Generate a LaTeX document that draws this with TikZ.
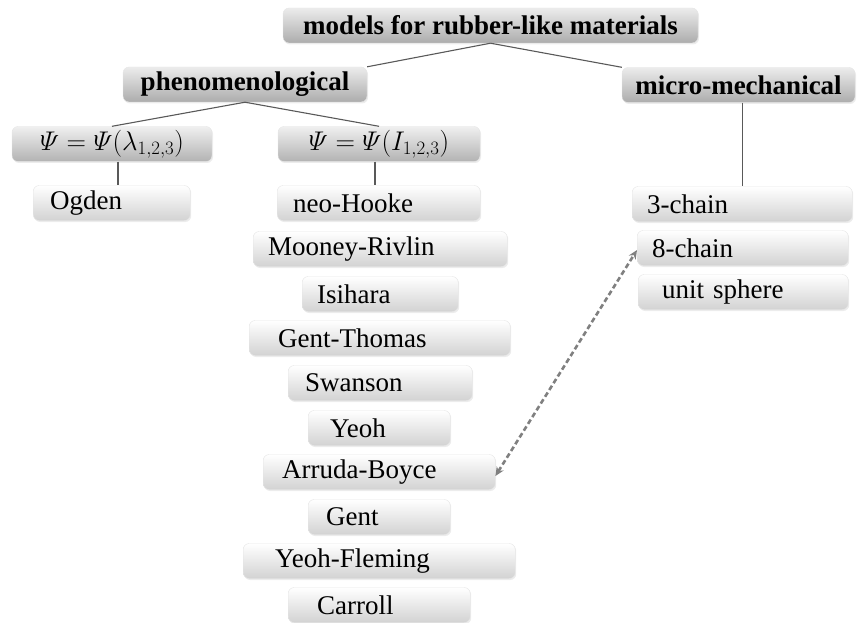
\RequirePackage{fix-cm}
\documentclass[tikz,border=0pt]{standalone}
\usepackage{amsmath,amssymb}
\usepackage{fontspec}
\setmainfont{Liberation Serif}
\usetikzlibrary{arrows.meta,positioning,shadows}

\begin{document}
\begin{tikzpicture}[
    x=1pt, y=-1pt,
    font=\fontsize{27}{30}\selectfont,
    every node/.style={inner sep=1pt},
    box/.style={rounded corners=6pt, minimum height=35pt, draw=gray!20,
                drop shadow={shadow xshift=1pt, shadow yshift=-1.5pt, opacity=0.15}},
    head/.style={box, top color=gray!15, bottom color=gray!65, font=\fontsize{27}{30}\selectfont\bfseries},
    law/.style={box, top color=gray!12, bottom color=gray!60},
    item/.style={box, anchor=west, align=left, top color=white, bottom color=gray!35},
    link/.style={draw=black!65, line width=1.1pt}
]
\useasboundingbox (0,0) rectangle (857,623);

% Headers
\node[head, minimum width=415pt] (models) at (490.5,25.5) {models for rubber-like materials};
\node[head, minimum width=244pt] (phen)   at (245,84.5)   {phenomenological};
\node[head, minimum width=233pt] (micro)  at (738.5,85)   {micro-mechanical};

% Energy forms
\node[law, minimum width=200pt] (psiL) at (112,144) {$\varPsi=\varPsi(\lambda_{1,2,3})$};
\node[law, minimum width=202pt] (psiI) at (379,144) {$\varPsi=\varPsi(I_{1,2,3})$};

% Models in principal stretches
\node[item, text width=123pt, inner xsep=17pt] (ogden) at (33,203) {Ogden};

% Models in invariants
\node[item, text width=171pt, inner xsep=16pt] (neo)      at (277,203) {neo-Hooke};
\node[item, text width=224pt, inner xsep=15pt] (mooney)   at (253,249) {Mooney-Rivlin};
\node[item, text width=126pt, inner xsep=15pt] (isihara)  at (302,294) {Isihara};
\node[item, text width=203pt, inner xsep=29pt] (gthomas)  at (249,338) {Gent-Thomas};
\node[item, text width=150pt, inner xsep=17pt] (swanson)  at (288,383) {Swanson};
\node[item, text width=98pt,  inner xsep=22pt] (yeoh)     at (308,428) {Yeoh};
\node[item, text width=194pt, inner xsep=19pt] (arruda)   at (263,472) {Arruda-Boyce};
\node[item, text width=106pt, inner xsep=18pt] (gent)     at (308,517) {Gent};
\node[item, text width=208pt, inner xsep=32pt] (yfleming) at (243,561) {Yeoh-Fleming};
\node[item, text width=124pt, inner xsep=29pt] (carroll)  at (288,605) {Carroll};

% Network models
\node[item, text width=190pt, inner xsep=15pt] (chain3) at (632,204) {3-chain};
\node[item, text width=181pt, inner xsep=15pt] (chain8) at (637,248) {8-chain};
\node[item, text width=162pt, inner xsep=24pt] (sphere) at (638,292) {unit sphere};

% Tree lines
\draw[link] (models.south) -- (phen.north east);
\draw[link] (models.south) -- (micro.north west);
\draw[link] (phen.south) -- (psiL.north);
\draw[link] (phen.south) -- (psiI.north);
\draw[link] ([xshift=6pt]psiL.south) -- ([xshift=6pt]psiL.south |- ogden.north);
\draw[link] ([xshift=-4pt]psiI.south) -- ([xshift=-4pt]psiI.south |- neo.north);
\draw[link] ([xshift=4pt]micro.south) -- ([xshift=4pt]micro.south |- chain3.north);

% Arruda-Boyce is the 8-chain model
\draw[{Stealth[length=9pt,width=8pt]}-{Stealth[length=9pt,width=8pt]}, gray, line width=2.6pt,
      dash pattern=on 5pt off 3pt]
    ([yshift=-4pt]arruda.east) -- ([yshift=-2pt]chain8.west);

\end{tikzpicture}
\end{document}
